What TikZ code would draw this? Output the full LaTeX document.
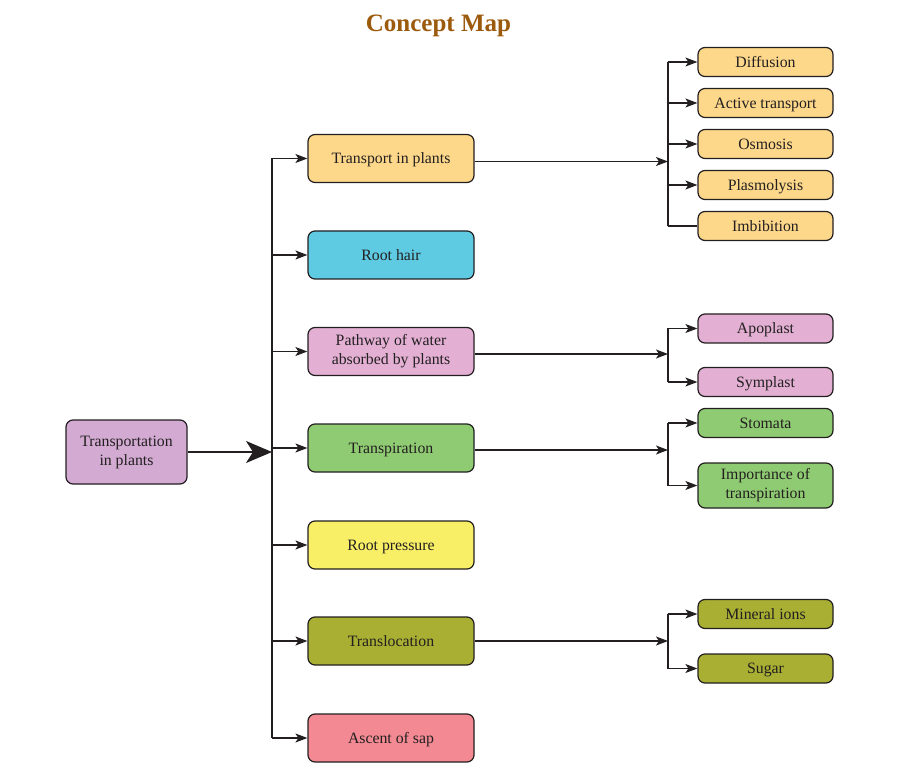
\documentclass[tikz,border=0pt]{standalone}
\usepackage{fontspec}
\setmainfont{Liberation Serif}
\usetikzlibrary{arrows.meta}
\definecolor{ink}{HTML}{231F20}
\definecolor{titlec}{HTML}{9C5A0C}
\definecolor{cRoot}{HTML}{D2AAD2}
\definecolor{cOrange}{HTML}{FDD88A}
\definecolor{cCyan}{HTML}{5ECBE3}
\definecolor{cPink}{HTML}{E3B0D4}
\definecolor{cGreen}{HTML}{8FCB72}
\definecolor{cYellow}{HTML}{F8EF66}
\definecolor{cOlive}{HTML}{A8AF32}
\definecolor{cRed}{HTML}{F38A93}
\tikzset{
  box/.style={draw=ink, line width=1.2pt, rounded corners=7pt, text=ink, align=center,
    font=\fontsize{15.8}{19}\selectfont, inner sep=0pt},
  one/.style={text height=10.5pt, text depth=0pt},
  mid/.style={box, minimum width=166pt, minimum height=48pt},
  small/.style={box, minimum width=135pt, minimum height=29pt},
  conn/.style={draw=ink, line width=1.2pt},
  arr/.style={conn, -{Stealth[length=12pt, width=9pt, inset=3pt]}},
  bigarr/.style={conn, -{Stealth[length=26pt, width=22pt, inset=7pt]}},
}
\begin{document}
\begin{tikzpicture}[x=1pt, y=-1pt]
\useasboundingbox (0,0) rectangle (907,775);
\node[text=titlec, font=\fontsize{25}{30}\selectfont\bfseries] (title) at (438.5,25.5) {Concept Map};

\node[box, fill=cRoot, minimum width=121pt, minimum height=64pt] (root) at (126.5,452) {Transportation\\in plants};

\node[mid, one, fill=cOrange] (t1) at (391,158.5) {Transport in plants};
\node[mid, one, fill=cCyan] (t2) at (391,255) {Root hair};
\node[mid, fill=cPink] (t3) at (391,351.5) {Pathway of water\\absorbed by plants};
\node[mid, one, fill=cGreen] (t4) at (391,448) {Transpiration};
\node[mid, one, fill=cYellow] (t5) at (391,545) {Root pressure};
\node[mid, one, fill=cOlive] (t6) at (391,641) {Translocation};
\node[mid, one, fill=cRed] (t7) at (391,738) {Ascent of sap};

\node[small, one, fill=cOrange] (d1) at (765.5,62) {Diffusion};
\node[small, one, fill=cOrange] (d2) at (765.5,103) {Active transport};
\node[small, one, fill=cOrange] (d3) at (765.5,144) {Osmosis};
\node[small, one, fill=cOrange] (d4) at (765.5,185) {Plasmolysis};
\node[small, one, fill=cOrange] (d5) at (765.5,226) {Imbibition};

\node[small, one, fill=cPink] (p1) at (765.5,328.5) {Apoplast};
\node[small, one, fill=cPink] (p2) at (765.5,382) {Symplast};

\node[small, one, fill=cGreen] (g1) at (765.5,423) {Stomata};
\node[small, fill=cGreen, minimum height=45pt] (g2) at (765.5,485.5) {Importance of\\transpiration};

\node[small, one, fill=cOlive] (o1) at (765.5,614) {Mineral ions};
\node[small, one, fill=cOlive] (o2) at (765.5,668.5) {Sugar};

% spine
\coordinate (spine) at (272,452);
\draw[conn] (spine |- t1.west) -- (spine |- t7.west);
\draw[bigarr] (root.east) -- (spine);
\foreach \n in {t1,t2,t3,t4,t5,t6,t7}
  \draw[arr] (spine |- \n.west) -- (\n.west);

% right brackets
\coordinate (b1) at (668,161.5);
\coordinate (b2) at (668,354);
\coordinate (b3) at (668,450);
\coordinate (b4) at (668,641);

\draw[arr] (b1 -| t1.east) -- (b1);
\draw[conn] (b1 |- d1.west) -- (b1 |- d5.west);
\foreach \n in {d1,d2,d3,d4}
  \draw[arr] (b1 |- \n.west) -- (\n.west);
\draw[conn] (b1 |- d5.west) -- (d5.west);

\draw[arr] (b2 -| t3.east) -- (b2);
\draw[conn] (b2 |- p1.west) -- (b2 |- p2.west);
\draw[arr] (b2 |- p1.west) -- (p1.west);
\draw[arr] (b2 |- p2.west) -- (p2.west);

\draw[arr] (b3 -| t4.east) -- (b3);
\draw[conn] (b3 |- g1.west) -- (b3 |- g2.west);
\draw[arr] (b3 |- g1.west) -- (g1.west);
\draw[arr] (b3 |- g2.west) -- (g2.west);

\draw[arr] (b4 -| t6.east) -- (b4);
\draw[conn] (b4 |- o1.west) -- (b4 |- o2.west);
\draw[arr] (b4 |- o1.west) -- (o1.west);
\draw[arr] (b4 |- o2.west) -- (o2.west);
\end{tikzpicture}
\end{document}
